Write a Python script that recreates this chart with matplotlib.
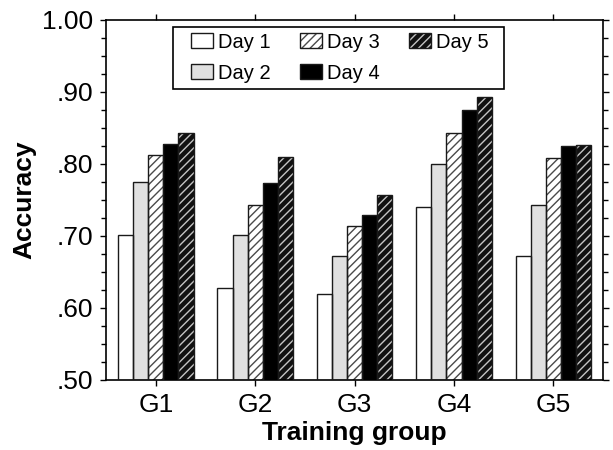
import matplotlib
matplotlib.use("Agg")
from matplotlib import pyplot as plt
from matplotlib.patches import Rectangle
from matplotlib.ticker import MultipleLocator, FixedFormatter, FixedLocator
import numpy as np

# data
groups = ["G1", "G2", "G3", "G4", "G5"]
days = ["Day 1", "Day 2", "Day 3", "Day 4", "Day 5"]
day1 = [0.701, 0.628, 0.620, 0.740, 0.672]
day2 = [0.775, 0.701, 0.672, 0.800, 0.743]
day3 = [0.813, 0.743, 0.714, 0.843, 0.808]
day4 = [0.828, 0.774, 0.729, 0.875, 0.825]
day5 = [0.843, 0.810, 0.757, 0.893, 0.826]
y_ticks = [0.50, 0.60, 0.70, 0.80, 0.90, 1.00]
y_labels = [".50", ".60", ".70", ".80", ".90", "1.00"]

series = [day1, day2, day3, day4, day5]
# face colour, hatch, hatch colour for each day
styles = [
    ("white", "", "white"),
    ("#e0e0e0", "", "#e0e0e0"),
    ("white", "////", "#4a4a4a"),
    ("black", "", "black"),
    ("#111111", "////", "#c4c4c4"),
]

plt.rcParams["font.family"] = ["Liberation Sans", "DejaVu Sans"]
plt.rcParams["hatch.linewidth"] = 1.0

fig = plt.figure(figsize=(6.13, 4.5), dpi=100)
ax = fig.add_axes([0.173, 0.1556, 0.811, 0.80])

x = np.arange(len(groups))
w = 0.152
handles = []
for i, vals in enumerate(series):
    face, hatch, hcol = styles[i]
    pos = x + (i - 2) * w
    b1 = ax.bar(pos, vals, w, color=face, hatch=hatch, edgecolor=hcol, linewidth=0, zorder=2)
    b2 = ax.bar(pos, vals, w, fill=False, edgecolor="#1a1a1a", linewidth=1.0, zorder=3)
    handles.append((b1[0], b2[0]))

ax.set_xlim(-0.5, 4.5)
ax.set_ylim(0.5, 1.0)
ax.set_xticks(x)
ax.set_xticklabels(groups)
ax.yaxis.set_major_locator(FixedLocator(y_ticks))
ax.yaxis.set_major_formatter(FixedFormatter(y_labels))
ax.yaxis.set_minor_locator(MultipleLocator(0.025))

ax.tick_params(axis="both", which="major", direction="out", length=4.3, width=1.0,
               labelsize=19, pad=5, top=True, right=True)
ax.tick_params(axis="y", which="minor", direction="out", length=3.5, width=1.0, right=True)
for s in ax.spines.values():
    s.set_linewidth(1.2)

ax.set_xlabel("Training group", fontsize=19, fontweight="bold", labelpad=3)
ax.set_ylabel("Accuracy", fontsize=19, fontweight="bold", labelpad=4)

# legend box drawn by hand so the padding can be wider on the sides
box = Rectangle((0.1348, 0.8083), 0.666, 0.1723, transform=ax.transAxes,
                facecolor="white", edgecolor="black", linewidth=1.2, zorder=4)
ax.add_patch(box)
leg = ax.legend(handles, days, ncol=3, loc="upper left", bbox_to_anchor=(0.171, 0.965),
                fontsize=14.5, frameon=False, handlelength=1.1, handleheight=0.75,
                handletextpad=0.25, columnspacing=1.45, borderpad=0, labelspacing=0.6,
                borderaxespad=0)
leg.set_zorder(5)

plt.savefig("out.png", dpi=100)
